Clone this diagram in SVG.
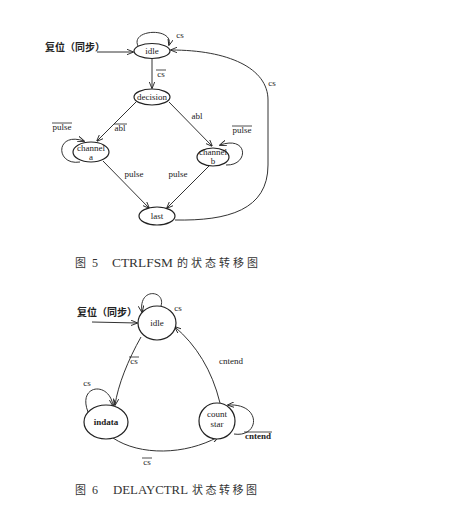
<svg xmlns="http://www.w3.org/2000/svg" width="464" height="507" viewBox="0 0 464 507">
<defs>
<marker id="arr" viewBox="0 0 10 8" refX="9" refY="4" markerWidth="7" markerHeight="6" orient="auto" markerUnits="userSpaceOnUse">
<path d="M0,0 L10,4 L0,8" fill="none" stroke="#222" stroke-width="1.3"/>
</marker>
</defs>
<style>
.n{fill:#fff;stroke:#222;stroke-width:1.2}
.e{fill:none;stroke:#333;stroke-width:1;marker-end:url(#arr)}
.t{font-family:"Liberation Serif",serif;font-size:9px;fill:#222;text-anchor:middle}
.b{font-weight:bold}
.cap{font-family:"Liberation Serif",serif;font-size:12px;fill:#333}
.cj{font-family:"Noto Sans CJK SC",sans-serif;font-size:11px;fill:#333}
.rs{font-family:"Noto Sans CJK SC",sans-serif;font-size:10px;font-weight:bold;fill:#222}
.ov{stroke:#222;stroke-width:0.8}
</style>
<rect width="464" height="507" fill="#fff"/>

<g id="connectors">
<!-- Figure 5 -->
<path class="e" d="M138,46 C130,29 174,27 169,45"/>
<path class="e" d="M97,52 L133,52"/>
<path class="e" d="M152,59 L152,88"/>
<path class="e" d="M136,102 L97,141"/>
<path class="e" d="M169,102 L212,146"/>
<path class="e" d="M80,162 C55,166 55,131 84,141"/>
<path class="e" d="M226,165 C249,166 249,135 220,145"/>
<path class="e" d="M103,161 L149,208"/>
<path class="e" d="M209,166 L167,208"/>
<path class="e" d="M175,220 C228,221 268,210 268,165 L268,100 C268,68 228,50 171,50"/>
<!-- Figure 6 -->
<path class="e" d="M161,306 C166,290 138,287 142,312"/>
<path class="e" d="M92,322 L137,323"/>
<path class="e" d="M141,337 C128,360 118,385 115,405"/>
<path class="e" d="M88,412 C77,384 110,381 113,406"/>
<path class="e" d="M220,403 C212,370 196,345 175,327"/>
<path class="e" d="M234,434 C260,438 262,403 228,405"/>
<path class="e" d="M113,438 C140,456 185,455 218,437"/>
</g>

<g id="idle5"><ellipse class="n" cx="152" cy="51" rx="18" ry="7.5"/><text class="t" x="152" y="54">idle</text></g>
<g id="decision"><ellipse class="n" cx="152" cy="97" rx="18" ry="8"/><text class="t" x="152" y="100">decision</text></g>
<g id="channela"><ellipse class="n" cx="91" cy="152" rx="18" ry="10"/><text class="t" x="91" y="151">channel</text><text class="t" x="91" y="160">a</text></g>
<g id="channelb"><ellipse class="n" cx="213" cy="157" rx="16" ry="9"/><text class="t" x="213" y="155">channel</text><text class="t" x="213" y="164">b</text></g>
<g id="last"><ellipse class="n" cx="157" cy="216" rx="18" ry="9"/><text class="t" x="157" y="219">last</text></g>

<g id="idle6"><ellipse class="n" cx="157" cy="323" rx="19" ry="17"/><text class="t" x="157" y="326">idle</text></g>
<g id="indata"><ellipse class="n" cx="106" cy="422" rx="22" ry="17"/><text class="t b" x="106" y="425">indata</text></g>
<g id="countstar"><ellipse class="n" cx="217" cy="421" rx="18" ry="18"/><text class="t" x="217" y="417">count</text><text class="t" x="217" y="427">star</text></g>

<g id="labels">
<text class="rs" x="45" y="51">复位（同步）</text>
<text class="t" x="180" y="38">cs</text>
<text class="t" x="161" y="77">cs</text><line class="ov" x1="156" y1="70" x2="166" y2="70"/>
<text class="t" x="120" y="131">abl</text><line class="ov" x1="114" y1="124" x2="127" y2="124"/>
<text class="t" x="197" y="119">abl</text>
<text class="t" x="62" y="130">pulse</text><line class="ov" x1="52" y1="123" x2="72" y2="123"/>
<text class="t" x="242" y="133">pulse</text><line class="ov" x1="232" y1="126" x2="252" y2="126"/>
<text class="t" x="134" y="177">pulse</text>
<text class="t" x="178" y="177">pulse</text>
<text class="t" x="272" y="86">cs</text>

<text class="cj" x="75" y="267">图</text>
<text class="cap" x="92" y="267">5</text>
<text class="cap" x="112" y="267" textLength="61" lengthAdjust="spacingAndGlyphs">CTRLFSM</text>
<text class="cj" x="177" y="267" textLength="81" lengthAdjust="spacing">的状态转移图</text>

<text class="rs" x="77" y="316">复位（同步）</text>
<text class="t" x="178" y="311">cs</text>
<text class="t" x="134" y="364">cs</text><line class="ov" x1="129" y1="357" x2="139" y2="357"/>
<text class="t" x="231" y="364">cntend</text>
<text class="t" x="87" y="386">cs</text>
<text class="t b" x="258" y="439">cntend</text><line class="ov" x1="244" y1="432" x2="272" y2="432"/>
<text class="t" x="147" y="465">cs</text><line class="ov" x1="142" y1="458" x2="152" y2="458"/>

<text class="cj" x="75" y="494">图</text>
<text class="cap" x="92" y="494">6</text>
<text class="cap" x="113" y="494" textLength="75" lengthAdjust="spacingAndGlyphs">DELAYCTRL</text>
<text class="cj" x="192" y="494" textLength="65" lengthAdjust="spacing">状态转移图</text>
</g>
</svg>
